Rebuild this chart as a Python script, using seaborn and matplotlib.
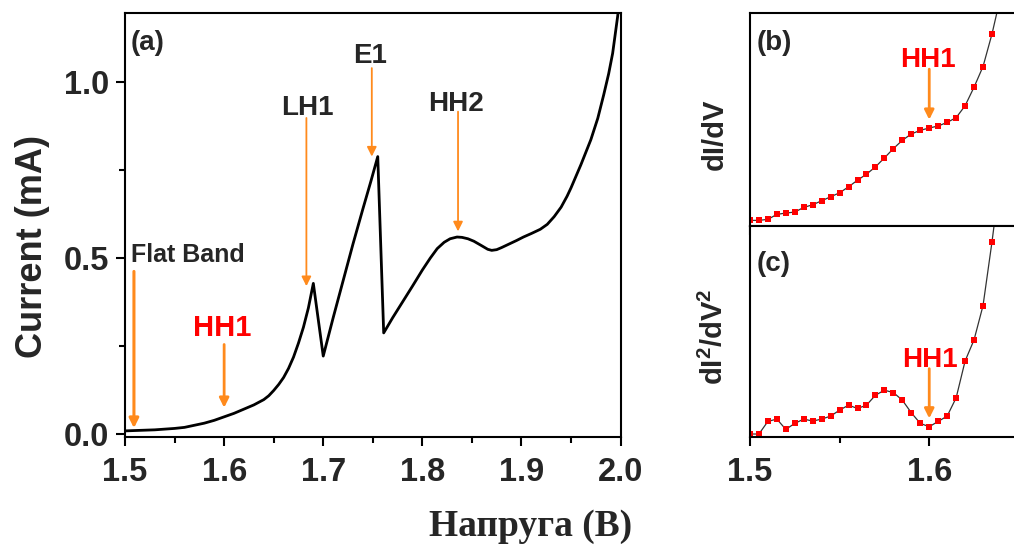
import matplotlib
matplotlib.use("Agg")
import matplotlib.pyplot as plt
from matplotlib.ticker import MultipleLocator, FormatStrFormatter
import pandas as pd
import seaborn as sns

# ---- I-V curve (panel a) ----
voltage = [1.500, 1.510, 1.530, 1.550, 1.560, 1.580, 1.590, 1.600, 1.610, 1.620,
           1.630, 1.640, 1.645, 1.650, 1.655, 1.660, 1.665, 1.670, 1.675, 1.680,
           1.685, 1.690, 1.700, 1.710, 1.720, 1.730, 1.740, 1.748, 1.755, 1.761,
           1.770, 1.780, 1.790, 1.800, 1.808, 1.815, 1.822, 1.828, 1.835, 1.840,
           1.846, 1.852, 1.860, 1.866, 1.870, 1.875, 1.880, 1.886, 1.895, 1.902,
           1.910, 1.919, 1.926, 1.933, 1.940, 1.946, 1.950, 1.960, 1.970, 1.977,
           1.983, 1.988, 1.992, 1.997, 2.000]
current = [0.008, 0.009, 0.011, 0.015, 0.018, 0.030, 0.038, 0.048, 0.058, 0.070,
           0.082, 0.097, 0.108, 0.123, 0.140, 0.160, 0.186, 0.218, 0.258, 0.303,
           0.358, 0.428, 0.221, 0.330, 0.435, 0.540, 0.640, 0.718, 0.789, 0.287,
           0.330, 0.375, 0.420, 0.466, 0.500, 0.527, 0.545, 0.555, 0.560, 0.559,
           0.555, 0.548, 0.535, 0.525, 0.522, 0.524, 0.530, 0.538, 0.550, 0.560,
           0.570, 0.582, 0.596, 0.618, 0.645, 0.676, 0.700, 0.766, 0.837, 0.898,
           0.965, 1.025, 1.083, 1.187, 1.260]

# ---- derivatives (panels b, c), arbitrary units ----
deriv_voltage = [1.500, 1.505, 1.510, 1.515, 1.520, 1.525, 1.530, 1.535, 1.540, 1.545,
                 1.550, 1.555, 1.560, 1.565, 1.570, 1.575, 1.580, 1.585, 1.590, 1.595,
                 1.600, 1.605, 1.610, 1.615, 1.620, 1.625, 1.630, 1.635, 1.640]
didv = [0.17, 0.17, 0.20, 0.35, 0.39, 0.42, 0.56, 0.64, 0.76, 0.88,
        1.00, 1.18, 1.38, 1.56, 1.78, 2.05, 2.33, 2.58, 2.77, 2.88,
        2.95, 3.01, 3.12, 3.26, 3.62, 4.18, 4.80, 5.78, 6.95]
d2idv2 = [0.08, 0.08, 0.46, 0.53, 0.22, 0.40, 0.53, 0.47, 0.53, 0.62,
          0.80, 0.95, 0.85, 0.95, 1.25, 1.40, 1.33, 1.10, 0.72, 0.40,
          0.30, 0.46, 0.62, 1.17, 2.28, 2.92, 3.95, 5.87, 8.00]

sns.set_theme(style="ticks")
plt.rcParams["font.family"] = ["Liberation Sans", "DejaVu Sans"]
plt.rcParams["font.weight"] = "bold"
plt.rcParams["mathtext.fontset"] = "custom"
plt.rcParams["mathtext.bf"] = "Liberation Sans:bold"
plt.rcParams["mathtext.rm"] = "Liberation Sans:bold"

ORANGE = "#FF8A1C"
RED = "#FF0000"
TICK_FS = 23.5
ANN_FS = 20

fig = plt.figure(figsize=(10.14, 5.47), dpi=100)
ax_a = fig.add_axes([0.1233, 0.2020, 0.4887, 0.7737])
ax_b = fig.add_axes([0.7396, 0.5868, 0.2829, 0.3888])
ax_c = fig.add_axes([0.7396, 0.2017, 0.2829, 0.3852])

def style_axes(ax):
    for s in ax.spines.values():
        s.set_linewidth(1.5)
        s.set_color("black")
        s.set_visible(True)
    ax.tick_params(which="major", direction="out", length=6.5, width=1.5,
                   labelsize=TICK_FS, color="black", pad=5)
    ax.tick_params(which="minor", direction="out", length=4, width=1.5, color="black")
    for lab in ax.get_xticklabels() + ax.get_yticklabels():
        lab.set_fontweight("bold")

# ---- panel (a) ----
df_iv = pd.DataFrame({"V": voltage, "I": current})
sns.lineplot(data=df_iv, x="V", y="I", ax=ax_a, color="black", lw=2,
             estimator=None, sort=False)
ax_a.set_xlim(1.5, 2.0)
ax_a.set_ylim(-0.008, 1.197)
ax_a.xaxis.set_major_locator(MultipleLocator(0.1))
ax_a.xaxis.set_minor_locator(MultipleLocator(0.05))
ax_a.yaxis.set_major_locator(MultipleLocator(0.5))
ax_a.yaxis.set_minor_locator(MultipleLocator(0.25))
ax_a.xaxis.set_major_formatter(FormatStrFormatter("%.1f"))
ax_a.yaxis.set_major_formatter(FormatStrFormatter("%.1f"))
ax_a.set_xlabel("")
ax_a.set_ylabel("")
style_axes(ax_a)
ax_a.tick_params(axis="x", which="major", pad=8)

def arrow(ax, x, y0, y1, lw, ms=14):
    ax.annotate("", xy=(x, y1), xytext=(x, y0),
                arrowprops=dict(arrowstyle="-|>", color=ORANGE, lw=lw,
                                mutation_scale=ms, shrinkA=0, shrinkB=0))

ax_a.text(1.506, 1.092, "(a)", fontsize=ANN_FS, fontweight="bold", ha="left", va="baseline")
ax_a.text(1.506, 0.490, "Flat Band", fontsize=18, fontweight="bold", ha="left", va="baseline")
arrow(ax_a, 1.509, 0.462, 0.016, 2.2)
ax_a.text(1.598, 0.278, "HH1", fontsize=21, fontweight="bold", color=RED, ha="center", va="baseline")
arrow(ax_a, 1.600, 0.254, 0.074, 2.0)
ax_a.text(1.6835, 0.908, "LH1", fontsize=ANN_FS, fontweight="bold", ha="center", va="baseline")
arrow(ax_a, 1.683, 0.899, 0.420, 1.3)
ax_a.text(1.7475, 1.055, "E1", fontsize=ANN_FS, fontweight="bold", ha="center", va="baseline")
arrow(ax_a, 1.749, 1.041, 0.789, 1.3)
ax_a.text(1.834, 0.919, "HH2", fontsize=ANN_FS, fontweight="bold", ha="center", va="baseline")
arrow(ax_a, 1.836, 0.917, 0.576, 1.3)

# ---- panels (b) and (c) ----
df_d = pd.DataFrame({"V": deriv_voltage, "dIdV": didv, "d2IdV2": d2idv2})
for ax, col, ylim in ((ax_b, "dIdV", (0, 6.40)), (ax_c, "d2IdV2", (0, 6.35))):
    sns.lineplot(data=df_d, x="V", y=col, ax=ax, color="#333333", lw=0.9,
                 estimator=None, sort=False, marker="s", markersize=5,
                 markerfacecolor=RED, markeredgewidth=0)
    ax.set_xlim(1.5, 1.66)
    ax.set_ylim(*ylim)
    ax.set_yticks([])
    ax.xaxis.set_major_locator(MultipleLocator(0.1))
    ax.xaxis.set_minor_locator(MultipleLocator(0.05))
    ax.xaxis.set_major_formatter(FormatStrFormatter("%.1f"))
    ax.set_xlabel("")
    ax.set_ylabel("")
    style_axes(ax)
    ax.tick_params(axis="x", which="major", pad=8)

ax_b.tick_params(axis="x", labelbottom=False)

ax_b.text(1.5039, 5.3, "(b)", fontsize=ANN_FS, fontweight="bold", ha="left", va="baseline")
ax_b.text(1.599, 4.8, "HH1", fontsize=ANN_FS, fontweight="bold", color=RED, ha="center", va="baseline")
arrow(ax_b, 1.600, 4.72, 3.20, 2.0)

ax_c.text(1.5039, 5.0, "(c)", fontsize=ANN_FS, fontweight="bold", ha="left", va="baseline")
ax_c.text(1.6004, 2.1, "HH1", fontsize=ANN_FS, fontweight="bold", color=RED, ha="center", va="baseline")
arrow(ax_c, 1.600, 2.05, 0.55, 2.0)

# ---- axis titles ----
fig.text(0.032, 0.550, "Current (mA)", rotation=90, fontsize=26, fontweight="bold",
         ha="center", va="center")
fig.text(0.705, 0.755, "dI/dV", rotation=90, fontsize=21, fontweight="bold",
         ha="center", va="center")
fig.text(0.705, 0.384, r"dI$^\mathbf{2}$/dV$^\mathbf{2}$", rotation=90, fontsize=21,
         fontweight="bold", ha="center", va="center")
fig.text(0.5237, 0.0366, "Напруга (В)", fontsize=27, fontweight="bold",
         family=["Liberation Serif", "DejaVu Serif"], ha="center", va="center")

fig.savefig("out.png", dpi=100)
